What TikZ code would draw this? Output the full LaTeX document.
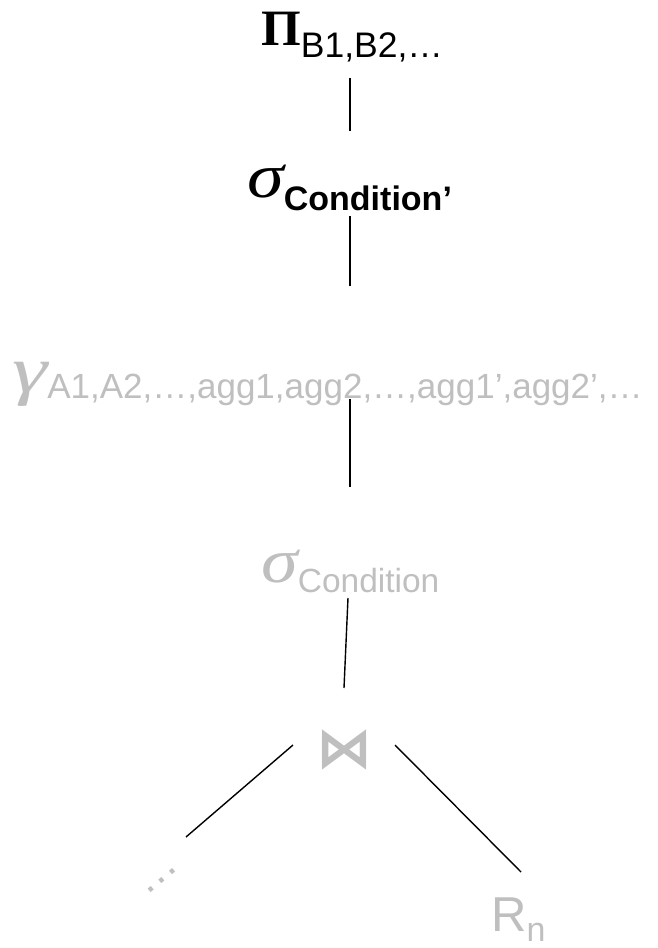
\documentclass[tikz,border=0pt]{standalone}
\usepackage{fontspec}
\setmainfont{Liberation Sans}
\newfontfamily\greekfont{Liberation Serif}
\newfontfamily\joinfont{DejaVu Sans}
\definecolor{faded}{RGB}{191,191,191}
\newcommand{\fs}[1]{\fontsize{#1}{#1}\selectfont}
% wide italic Greek operator letter: size, horizontal stretch, glyph
\newcommand{\opletter}[3]{\scalebox{#2}[1]{\greekfont\itshape\fs{#1}#3}}
\begin{document}
\begin{tikzpicture}[x=1pt,y=1pt,
  op/.style={inner sep=0pt, anchor=base west},
  edge/.style={draw=black, line width=1.4pt}]
\useasboundingbox (0,0) rectangle (658,-948);

% operators of the query tree
\node[op] (proj) at (261,-45)
  {{\greekfont\bfseries\fs{51}Π}\raisebox{-12pt}{\fs{35.5}B1,B2,…}};
\node[op] (selTop) at (247,-197)
  {\opletter{63}{1.18}{σ}\raisebox{-13pt}{\fs{34}\bfseries Condition’}};
\node[op, text=faded] (group) at (12,-392)
  {\opletter{66}{1.35}{γ}\raisebox{-6pt}{\fs{35}A1,A2,…,agg1,agg2,…,agg1’,agg2’,…}};
\node[op, text=faded] (selLow) at (261,-582)
  {\opletter{63}{1.18}{σ}\raisebox{-10pt}{\fs{33.5}Condition}};
\node[text=faded, inner sep=0pt] (join) at (344,-750) {\joinfont\bfseries\fs{56}⋈};
\node[text=faded, inner sep=0pt, rotate=40] (more) at (162,-881) {\fs{44}…};
\node[op, text=faded] (rel) at (491,-931) {\fs{49}R\raisebox{-10pt}{\fs{34}n}};

% connector end points
\coordinate (projOut) at (350,-78);
\coordinate (selTopIn) at (350,-131);
\coordinate (selTopOut) at (350,-216);
\coordinate (groupIn) at (350,-286);
\coordinate (groupOut) at (350,-399);
\coordinate (selLowIn) at (350,-487);
\coordinate (selLowOut) at (348,-598);
\coordinate (joinIn) at (344,-688);
\coordinate (joinLeft) at (293,-745);
\coordinate (moreIn) at (186,-837);
\coordinate (joinRight) at (395,-745);
\coordinate (relIn) at (521,-872);

% edges
\draw[edge] (projOut) -- (selTopIn);
\draw[edge] (selTopOut) -- (groupIn);
\draw[edge] (groupOut) -- (selLowIn);
\draw[edge] (selLowOut) -- (joinIn);
\draw[edge] (joinLeft) -- (moreIn);
\draw[edge] (joinRight) -- (relIn);
\end{tikzpicture}
\end{document}
